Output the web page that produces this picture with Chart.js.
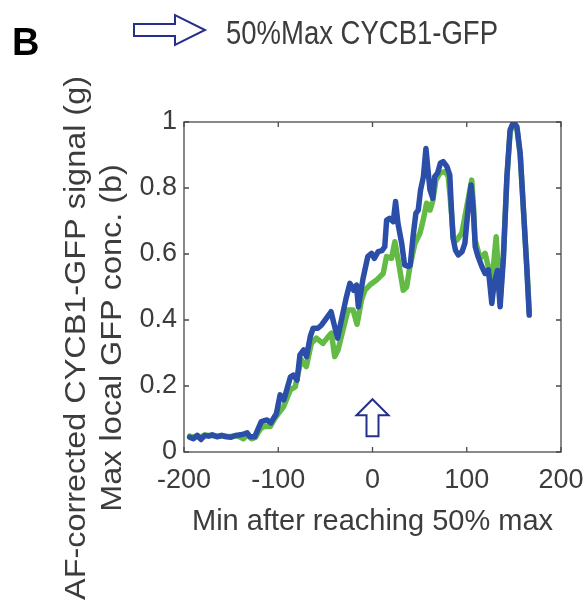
<!DOCTYPE html>
<html><head><meta charset="utf-8">
<script src="https://cdn.jsdelivr.net/npm/chart.js@4/dist/chart.umd.min.js"></script>
<style>html,body{margin:0;padding:0;background:#fff;}#wrap{width:585px;height:605px;}</style>
</head><body><div id="wrap"><canvas id="c" width="585" height="605"></canvas></div>
<script>
// ---- data ----
const xTicks = [-200, -100, 0, 100, 200];
const yTicks = [0, 0.2, 0.4, 0.6, 0.8, 1];

const blueT = [-194,-190,-186,-182,-178,-174,-170,-165,-160,-155,-150,-145,-140,-136,-133,-130,-125,-118,-112,-108,-102,-98,-94,-87,-84,-80,-77,-73,-70,-66,-63,-58,-54,-49,-44,-41,-37,-33,-28,-24,-20,-17,-15,-10,-5,-1,2,6,10,13,15,18,22,24.5,27,31,34,38,40,43,46,48.5,51,54,56.7,58.5,61,64,66,69,72,75,79,82,84,85.5,88,91,95,98,102,104.6,107,109,112,116,119.5,123,126.6,129,132.6,135.4,139,142.6,146,149.6,153.2,156.7,160.2,163.8,166.3];
const blueV = [0.045,0.04,0.05,0.038,0.05,0.048,0.052,0.046,0.05,0.046,0.045,0.05,0.052,0.055,0.058,0.046,0.046,0.092,0.097,0.088,0.116,0.173,0.158,0.228,0.233,0.218,0.294,0.309,0.289,0.35,0.375,0.375,0.385,0.405,0.425,0.39,0.345,0.40,0.466,0.511,0.49,0.506,0.44,0.526,0.592,0.602,0.587,0.607,0.61,0.622,0.703,0.708,0.698,0.759,0.693,0.632,0.567,0.562,0.565,0.652,0.723,0.733,0.794,0.834,0.92,0.865,0.794,0.769,0.834,0.845,0.875,0.88,0.865,0.839,0.72,0.648,0.612,0.597,0.607,0.632,0.754,0.809,0.733,0.622,0.592,0.562,0.541,0.552,0.45,0.511,0.55,0.44,0.592,0.834,0.976,1.0,0.986,0.905,0.733,0.552,0.415];

const greenT = [-194,-190,-186,-182,-178,-174,-170,-165,-160,-155,-150,-145,-141,-137,-133,-128,-124,-119,-115.6,-108.5,-104,-99.7,-94.4,-87.2,-81.9,-79.1,-75.5,-70.2,-64.9,-59.6,-52.6,-47.2,-43.6,-40.1,-36.6,-31.3,-26,-20.6,-16.4,-11.7,-8.2,-2.9,4.3,11.3,14.9,20.2,23.7,27.2,32.6,36.2,39.7,45,50.3,53.8,57.4,61,63.8,67.3,71.6,76.9,80.4,84,85.7,89.4,94.7,100,105.3,107,108.8,114.1,119.5,123,126.6,131.2,133.6,135.4,138.9,142.6,146,149.6,153.2,156.7,160.2,163.8,166.3];
const greenV = [0.048,0.045,0.05,0.045,0.052,0.05,0.05,0.048,0.05,0.048,0.047,0.05,0.046,0.04,0.052,0.04,0.045,0.07,0.077,0.077,0.1,0.117,0.137,0.188,0.198,0.238,0.279,0.259,0.329,0.345,0.329,0.349,0.36,0.289,0.309,0.37,0.43,0.43,0.387,0.46,0.49,0.506,0.521,0.541,0.592,0.587,0.637,0.582,0.49,0.50,0.562,0.632,0.663,0.703,0.754,0.733,0.759,0.824,0.845,0.85,0.835,0.72,0.65,0.642,0.663,0.743,0.824,0.75,0.643,0.587,0.602,0.56,0.511,0.652,0.541,0.46,0.6,0.83,0.97,0.995,0.98,0.9,0.73,0.56,0.425];

const markerT = 0;              // up-arrow marker at t = 0
const markerV = [0.048, 0.16];  // bottom / tip of marker

const panelLabel = 'B';
const legendText = '50%Max CYCB1-GFP';
const yTitle1 = 'AF-corrected CYCB1-GFP signal (g)';
const yTitle2 = 'Max local GFP conc. (b)';
const xTitle = 'Min after reaching 50% max';

// ---- styles ----
const BLUE = '#2b4ea8', GREEN = '#63bb45', NAVY = '#26308c', AX = '#4a4a4a', TXT = '#3c3c3c';
const FONT = '"Liberation Sans", Arial, Helvetica, sans-serif';

const pts = (t, v) => t.map((x, i) => ({x, y: v[i]}));

const framePlugin = {
  id: 'frame',
  afterDraw(chart) {
    const {ctx, chartArea: a, scales: {x, y}} = chart;
    ctx.save();
    ctx.strokeStyle = AX; ctx.lineWidth = 1.3;
    ctx.strokeRect(a.left, a.top, a.right - a.left, a.bottom - a.top);
    const tl = 5;
    ctx.beginPath();
    xTicks.forEach(v => { const p = x.getPixelForValue(v);
      ctx.moveTo(p, a.bottom); ctx.lineTo(p, a.bottom - tl);
      ctx.moveTo(p, a.top); ctx.lineTo(p, a.top + tl); });
    yTicks.forEach(v => { const p = y.getPixelForValue(v);
      ctx.moveTo(a.left, p); ctx.lineTo(a.left + tl, p);
      ctx.moveTo(a.right, p); ctx.lineTo(a.right - tl, p); });
    ctx.stroke();
    ctx.restore();
  }
};

const annotPlugin = {
  id: 'annot',
  afterDraw(chart) {
    const {ctx, scales: {x, y}} = chart;
    ctx.save();
    // panel label
    ctx.fillStyle = '#000';
    ctx.font = 'bold 38px ' + FONT;
    ctx.textBaseline = 'alphabetic'; ctx.textAlign = 'left';
    ctx.fillText(panelLabel, 12, 55);
    // legend arrow (right pointing, outline)
    ctx.strokeStyle = NAVY; ctx.lineWidth = 2; ctx.lineJoin = 'miter';
    ctx.beginPath();
    ctx.moveTo(134, 24); ctx.lineTo(175, 24); ctx.lineTo(175, 15); ctx.lineTo(205, 30);
    ctx.lineTo(175, 45); ctx.lineTo(175, 36); ctx.lineTo(134, 36); ctx.closePath();
    ctx.stroke();
    ctx.fillStyle = TXT;
    ctx.font = '34px ' + FONT;
    ctx.fillText(legendText, 226, 44, 272);
    // in-plot up arrow marker
    const cx = x.getPixelForValue(markerT);
    const yb = y.getPixelForValue(markerV[0]);
    const yt = y.getPixelForValue(markerV[1]);
    const hh = 16, hw = 16, sw = 6;
    ctx.beginPath();
    ctx.moveTo(cx, yt); ctx.lineTo(cx + hw, yt + hh); ctx.lineTo(cx + sw, yt + hh);
    ctx.lineTo(cx + sw, yb); ctx.lineTo(cx - sw, yb); ctx.lineTo(cx - sw, yt + hh);
    ctx.lineTo(cx - hw, yt + hh); ctx.closePath();
    ctx.stroke();
    // y titles (rotated)
    ctx.fillStyle = TXT;
    ctx.font = '30px ' + FONT;
    ctx.textAlign = 'center';
    [[yTitle1, 85], [yTitle2, 121]].forEach(([t, bx]) => {
      ctx.save();
      ctx.translate(bx, 338);
      ctx.rotate(-Math.PI / 2);
      ctx.scale(1.08, 1);
      ctx.fillText(t, 0, 0);
      ctx.restore();
    });
    ctx.restore();
  }
};

new Chart(document.getElementById('c'), {
  type: 'line',
  data: {
    datasets: [
      { label: 'Max local GFP conc. (b)', data: pts(blueT, blueV), borderColor: BLUE, borderWidth: 5.5,
        pointRadius: 0, tension: 0, borderJoinStyle: 'round', borderCapStyle: 'round', fill: false },
      { label: 'AF-corrected CYCB1-GFP signal (g)', data: pts(greenT, greenV), borderColor: GREEN, borderWidth: 5.5,
        pointRadius: 0, tension: 0, borderJoinStyle: 'round', borderCapStyle: 'round', fill: false }
    ]
  },
  options: {
    responsive: false, animation: false, devicePixelRatio: 1,
    layout: { padding: { top: 122, right: 24, left: 0, bottom: 0 } },
    plugins: { legend: { display: false }, tooltip: { enabled: false } },
    scales: {
      x: {
        type: 'linear', min: -200, max: 200,
        afterFit: s => { s.height = 153; s.paddingLeft = 0; s.paddingRight = 0; },
        afterBuildTicks: s => { s.ticks = xTicks.map(v => ({value: v})); },
        grid: { display: false, drawTicks: false },
        border: { display: false },
        ticks: { color: TXT, font: { family: FONT, size: 27 }, padding: 12, maxRotation: 0, autoSkip: false },
        title: { display: true, text: xTitle, color: TXT, font: { family: FONT, size: 29 }, padding: { top: 0, bottom: 66 } }
      },
      y: {
        type: 'linear', min: 0, max: 1,
        afterFit: s => { s.width = 184; s.paddingTop = 0; s.paddingBottom = 0; },
        afterBuildTicks: s => { s.ticks = yTicks.map(v => ({value: v})); },
        grid: { display: false, drawTicks: false },
        border: { display: false },
        ticks: { color: TXT, font: { family: FONT, size: 27 }, padding: 7,
                 callback: v => String(Number(v.toFixed(1))) }
      }
    }
  },
  plugins: [framePlugin, annotPlugin]
});
</script></body></html>
